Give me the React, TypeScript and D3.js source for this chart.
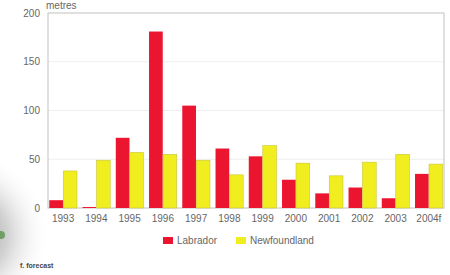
import React from "react";
import * as d3 from "d3";

const years = ["1993","1994","1995","1996","1997","1998","1999","2000","2001","2002","2003","2004f"];
const labrador = [8, 1, 72, 181, 105, 61, 53, 29, 15, 21, 10, 35];
const newfoundland = [38, 49, 57, 55, 49, 34, 64, 46, 33, 47, 55, 45];
const yTicks = [0, 50, 100, 150, 200];
const seriesNames = ["Labrador", "Newfoundland"];
const colors = ["#ec1530", "#f1ee1f"];

export default function App() {
  const W = 450, H = 275;
  const left = 48, right = 444, top = 13, bottom = 208;
  const x0 = d3.scaleBand().domain(years).range([left, right]).paddingInner(0.15).paddingOuter(0.03);
  const x1 = d3.scaleBand().domain(seriesNames).range([0, x0.bandwidth()]).padding(0.02);
  const y = d3.scaleLinear().domain([0, 200]).range([bottom, top]);
  const font = "'Liberation Sans', Arial, sans-serif";
  const data = [labrador, newfoundland];
  return (
    <svg width={W} height={H} style={{ position: "absolute", left: 0, top: 0, background: "#fff" }} fontFamily={font}>
      <defs>
        <radialGradient id="shade" cx="-35" cy="235" r="85" gradientUnits="userSpaceOnUse">
          <stop offset="0" stopColor="#9a9a9a" />
          <stop offset="0.5" stopColor="#d2d2d2" />
          <stop offset="1" stopColor="#ffffff" stopOpacity="0" />
        </radialGradient>
      </defs>
      <rect x={0} y={0} width={W} height={H} fill="#fff" />
      <rect x={0} y={140} width={60} height={135} fill="url(#shade)" />
      <circle cx={1} cy={235} r={4} fill="#4a8a3a" opacity={0.7} />
      {yTicks.filter(t => t > 0 && t < 200).map(t => (
        <line key={t} x1={left} x2={right} y1={y(t)} y2={y(t)} stroke="#eeeeee" strokeWidth={1} />
      ))}
      <rect x={left} y={top} width={right - left} height={bottom - top} fill="none" stroke="#cccccc" strokeWidth={1.2} />
      {yTicks.map(t => (
        <text key={t} x={40} y={y(t) + 3.5} textAnchor="end" fontSize={10} fill="#666">{t}</text>
      ))}
      <text x={left - 2} y={8.5} fontSize={10} fill="#666">metres</text>
      {years.map((yr, i) => (
        <g key={yr}>
          {data.map((series, s) => (
            <rect key={s}
              x={(x0(yr) as number) + (x1(seriesNames[s]) as number)}
              y={y(series[i])}
              width={x1.bandwidth()}
              height={bottom - y(series[i])}
              fill={colors[s]}
              stroke={s === 1 ? "#c9c43a" : "none"}
              strokeWidth={0.6} />
          ))}
          <text x={(x0(yr) as number) + x0.bandwidth() / 2} y={222} textAnchor="middle" fontSize={10} fill="#666">{yr}</text>
        </g>
      ))}
      <rect x={163} y={237} width={10} height={7} fill={colors[0]} />
      <text x={177} y={244} fontSize={10} fill="#666">{seriesNames[0]}</text>
      <rect x={236} y={237} width={10} height={7} fill={colors[1]} />
      <text x={250} y={244} fontSize={10} fill="#666">{seriesNames[1]}</text>
      <text x={20} y={268} fontSize={7} fontWeight="bold" fill="#444">f. forecast</text>
    </svg>
  );
}
